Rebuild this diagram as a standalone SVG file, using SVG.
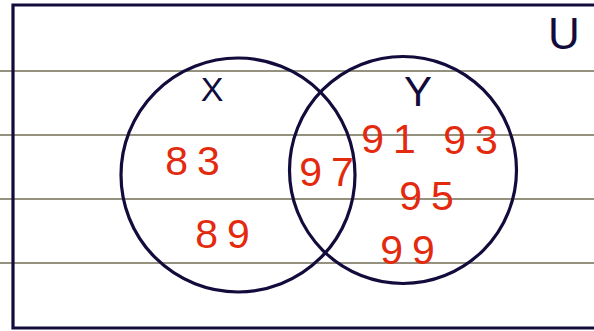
<svg xmlns="http://www.w3.org/2000/svg" width="594" height="331" viewBox="0 0 594 331">
<style>
.rule{stroke:#94927f;stroke-width:2.2;fill:none}
.ink{stroke:#120c3c;stroke-width:3.2;fill:none}
.lbl{font-family:"Liberation Sans",Arial,sans-serif;fill:#120c3c;text-anchor:middle}
.num{font-family:"Liberation Sans",Arial,sans-serif;fill:#e32a0e;font-size:41px;text-anchor:middle;letter-spacing:9px}
</style>
<rect width="594" height="331" fill="#ffffff"/>
<g id="paper-lines">
<line class="rule" x1="0" y1="71" x2="594" y2="71"/>
<line class="rule" x1="0" y1="135" x2="594" y2="135"/>
<line class="rule" x1="0" y1="199" x2="594" y2="199"/>
<line class="rule" x1="0" y1="263" x2="594" y2="263"/>
</g>
<g id="universe">
<path class="ink" d="M594,5 H13 V328 H594" stroke-width="3.6"/>
<text class="lbl" x="564" y="49" font-size="44">U</text>
</g>
<g id="set-X">
<circle class="ink" cx="238" cy="175" r="117"/>
<text class="lbl" x="212" y="101" font-size="34">X</text>
</g>
<g id="set-Y">
<circle class="ink" cx="403" cy="170" r="113.5"/>
<text class="lbl" x="418" y="106" font-size="42">Y</text>
</g>
<g id="elements">
<text class="num" x="197" y="175">83</text>
<text class="num" x="227" y="248">89</text>
<text class="num" x="331" y="186">97</text>
<text class="num" x="393" y="153">91</text>
<text class="num" x="475" y="154">93</text>
<text class="num" x="431" y="210">95</text>
<text class="num" x="412" y="264">99</text>
</g>
</svg>
